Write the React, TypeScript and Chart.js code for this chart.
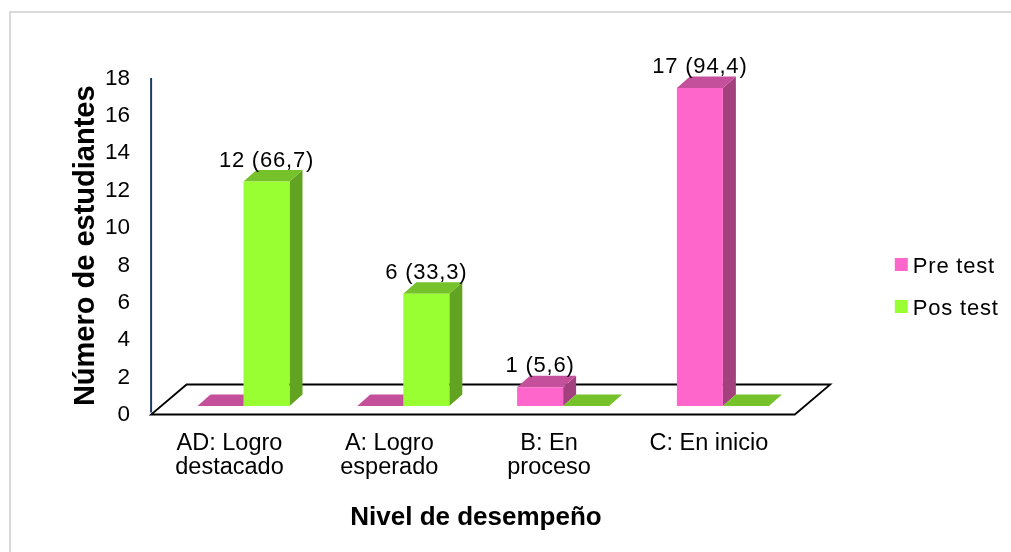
import React, { useEffect, useRef } from 'react';
import { Chart, registerables } from 'chart.js';

Chart.register(...registerables);

// ---- data ----
const categories: (string | string[])[] = [
  ['AD: Logro', 'destacado'],
  ['A: Logro', 'esperado'],
  ['B: En', 'proceso'],
  'C: En inicio',
];
const seriesNames = ['Pre test', 'Pos test'];
const preTest = [0, 0, 1, 17];
const posTest = [12, 6, 0, 0];
const preTestPct = [0, 0, 5.6, 94.4];
const posTestPct = [66.7, 33.3, 0, 0];
const yMin = 0;
const yMax = 18;
const yStep = 2;

// ---- styles ----
const frontColors = ['#FF66CC', '#99FF33'];
const topColors = ['#C4509C', '#76C22A'];
const sideColors = ['#A3417F', '#62A322'];
const FONT = '"Liberation Sans", Arial, Helvetica, sans-serif';
const DX = 13;
const DY = -11.5;

const pctSeries = [preTestPct, posTestPct];

const fmt = (v: number) => v.toFixed(1).replace('.', ',');

const excel3d = {
  id: 'excel3d',
  beforeDraw(chart: any) {
    const { ctx } = chart;
    ctx.save();
    ctx.fillStyle = '#ffffff';
    ctx.fillRect(0, 0, chart.width, chart.height);
    ctx.strokeStyle = '#d9d9d9';
    ctx.lineWidth = 2;
    ctx.strokeRect(10, 12, chart.width + 20, chart.height + 20);
    ctx.restore();
  },
  beforeDatasetsDraw(chart: any) {
    const { ctx, chartArea, scales } = chart;
    const ys = scales.y;
    const base = ys.getPixelForValue(yMin);
    const top = ys.getPixelForValue(yMax);
    const fl = chartArea.left - 12.5;
    const fr = chartArea.right - 8;
    const fy = base + 8.5;
    const bdx = 35.5;
    const bdy = -30;
    ctx.save();
    // y axis line
    ctx.beginPath();
    ctx.moveTo(fl, top + 8.5);
    ctx.lineTo(fl, fy - 2);
    ctx.strokeStyle = '#203864';
    ctx.lineWidth = 2;
    ctx.stroke();
    // floor
    ctx.beginPath();
    ctx.moveTo(fl, fy);
    ctx.lineTo(fr, fy);
    ctx.lineTo(fr + bdx, fy + bdy);
    ctx.lineTo(fl + bdx, fy + bdy);
    ctx.closePath();
    ctx.fillStyle = '#ffffff';
    ctx.fill();
    ctx.strokeStyle = '#000000';
    ctx.lineWidth = 1.8;
    ctx.stroke();
    // 3D faces
    chart.data.datasets.forEach((_ds: any, di: number) => {
      const meta = chart.getDatasetMeta(di);
      meta.data.forEach((el: any) => {
        const { x, y, base: b, width } = el.getProps(['x', 'y', 'base', 'width'], true);
        const l = x - width / 2;
        const r = x + width / 2;
        if (b - y > 0.5) {
          ctx.beginPath();
          ctx.moveTo(r, y);
          ctx.lineTo(r + DX, y + DY);
          ctx.lineTo(r + DX, b + DY);
          ctx.lineTo(r, b);
          ctx.closePath();
          ctx.fillStyle = sideColors[di];
          ctx.fill();
        }
        ctx.beginPath();
        ctx.moveTo(l, y);
        ctx.lineTo(r, y);
        ctx.lineTo(r + DX, y + DY);
        ctx.lineTo(l + DX, y + DY);
        ctx.closePath();
        ctx.fillStyle = topColors[di];
        ctx.fill();
      });
    });
    ctx.restore();
  },
  afterDatasetsDraw(chart: any) {
    const { ctx } = chart;
    ctx.save();
    ctx.font = `22px ${FONT}`;
    (ctx as any).letterSpacing = '0.8px';
    ctx.fillStyle = '#000000';
    ctx.textAlign = 'center';
    ctx.textBaseline = 'alphabetic';
    chart.data.datasets.forEach((ds: any, di: number) => {
      const meta = chart.getDatasetMeta(di);
      meta.data.forEach((el: any, i: number) => {
        const v = ds.data[i];
        if (!v) return;
        const { x, y } = el.getProps(['x', 'y'], true);
        ctx.fillText(`${v} (${fmt(pctSeries[di][i])})`, x, y - 15);
      });
    });
    ctx.restore();
  },
  afterDraw(chart: any) {
    const { ctx, chartArea } = chart;
    ctx.save();
    ctx.font = `22px ${FONT}`;
    (ctx as any).letterSpacing = '0.8px';
    ctx.textAlign = 'left';
    ctx.textBaseline = 'alphabetic';
    const lx = chartArea.right + 92;
    const ly = 258;
    const gap = 42;
    chart.data.datasets.forEach((ds: any, i: number) => {
      ctx.fillStyle = ds.backgroundColor;
      ctx.fillRect(lx, ly + i * gap, 13, 13);
      ctx.fillStyle = '#000000';
      ctx.fillText(ds.label, lx + 18, ly + i * gap + 15.3);
    });
    ctx.restore();
  },
};

export default function App() {
  const ref = useRef<HTMLCanvasElement | null>(null);
  useEffect(() => {
    document.body.style.margin = '0';
    const chart = new Chart(ref.current as HTMLCanvasElement, {
      type: 'bar',
      data: {
        labels: categories,
        datasets: [
          { label: seriesNames[0], data: preTest, backgroundColor: frontColors[0], borderWidth: 0 },
          { label: seriesNames[1], data: posTest, backgroundColor: frontColors[1], borderWidth: 0 },
        ],
      },
      options: {
        animation: false,
        responsive: true,
        maintainAspectRatio: false,
        layout: { padding: { left: 0, top: 69.4, right: 208.2, bottom: 0 } },
        datasets: { bar: { barPercentage: 1, categoryPercentage: 0.576 } },
        plugins: { legend: { display: false }, tooltip: { enabled: false } },
        scales: {
          x: {
            grid: { display: false, drawTicks: false },
            border: { display: false },
            ticks: {
              color: '#000',
              font: { family: FONT, size: 23.5, lineHeight: '24px' },
              padding: 25.4,
              labelOffset: -14,
              maxRotation: 0,
              autoSkip: false,
            },
            title: {
              display: true,
              text: 'Nivel de desempeño\u00a0\u00a0',
              color: '#000',
              font: { family: FONT, size: 26, weight: 'bold' },
              padding: { top: 0, bottom: 19 },
            },
            afterFit: (s: any) => {
              s.height = 146;
            },
          },
          y: {
            min: yMin,
            max: yMax,
            grid: { display: false, drawTicks: false },
            border: { display: false },
            ticks: {
              stepSize: yStep,
              color: '#000',
              font: { family: FONT, size: 22.5 },
              padding: 33.5,
              labelOffset: 9,
            },
            title: {
              display: true,
              text: 'Número de estudiantes\u00a0\u00a0',
              color: '#000',
              font: { family: FONT, size: 29, weight: 'bold' },
              padding: { top: 69, bottom: 0 },
            },
            afterFit: (s: any) => {
              s.width = 163.6;
            },
          },
        },
      } as any,
      plugins: [excel3d],
    });
    return () => chart.destroy();
  }, []);
  return (
    <div style={{ position: 'relative', width: 1011, height: 552 }}>
      <canvas ref={ref} />
    </div>
  );
}
